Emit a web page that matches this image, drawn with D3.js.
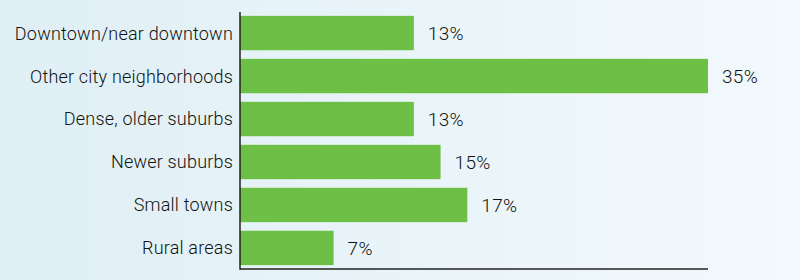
<!DOCTYPE html>
<html><head><meta charset="utf-8">
<script src="https://cdn.jsdelivr.net/npm/d3@7"></script>
<style>html,body{margin:0;padding:0;}svg{display:block;}</style>
</head><body>
<svg id="chart" width="800" height="280"></svg>
<script>
const categories = ["Downtown/near downtown","Other city neighborhoods","Dense, older suburbs","Newer suburbs","Small towns","Rural areas"];
const values = [13,35,13,15,17,7];
const valueLabels = ["13%","35%","13%","15%","17%","7%"];

const svg = d3.select("#chart");
const W = 800, H = 280;
const defs = svg.append("defs");
const grad = defs.append("linearGradient").attr("id","bg").attr("x1","0").attr("x2","1").attr("y1","0").attr("y2","0");
grad.append("stop").attr("offset","0").attr("stop-color","#dfeff5");
grad.append("stop").attr("offset","1").attr("stop-color","#f3f9fc");
svg.append("rect").attr("width",W).attr("height",H).attr("fill","url(#bg)");

const x0 = 240, yTop = 12, yBot = 269;
const x = d3.scaleLinear().domain([0,35]).range([x0, 708]);
const y = d3.scaleBand().domain(categories).range([yTop, yBot]).paddingInner(0.2).paddingOuter(0.09);

const font = "Roboto, 'Open Sans', sans-serif";

svg.selectAll("rect.bar").data(categories).join("rect").attr("class","bar")
  .attr("x", x(0)).attr("y", d => y(d))
  .attr("width", (d,i) => x(values[i]) - x(0))
  .attr("height", y.bandwidth())
  .attr("fill","#6dbf45");

svg.selectAll("text.cat").data(categories).join("text").attr("class","cat")
  .attr("x", 233).attr("y", d => y(d) + y.bandwidth()/2)
  .attr("dy","0.36em").attr("text-anchor","end")
  .attr("font-family", font).attr("font-weight", 300).attr("font-size", 18)
  .attr("letter-spacing", "0.2px").attr("fill","#111")
  .text(d => d);

svg.selectAll("text.val").data(categories).join("text").attr("class","val")
  .attr("x", (d,i) => x(values[i]) + 14).attr("y", d => y(d) + y.bandwidth()/2)
  .attr("dy","0.36em")
  .attr("font-family", font).attr("font-weight", 300).attr("font-size", 19)
  .attr("letter-spacing", "0.3px").attr("fill","#111")
  .text((d,i) => valueLabels[i]);

svg.append("line").attr("x1", x0).attr("x2", x0).attr("y1", yTop).attr("y2", yBot+0.75)
  .attr("stroke","#222").attr("stroke-width",1.5);
svg.append("line").attr("x1", x0).attr("x2", x(35)).attr("y1", yBot).attr("y2", yBot)
  .attr("stroke","#222").attr("stroke-width",1.5);
</script>
</body></html>
